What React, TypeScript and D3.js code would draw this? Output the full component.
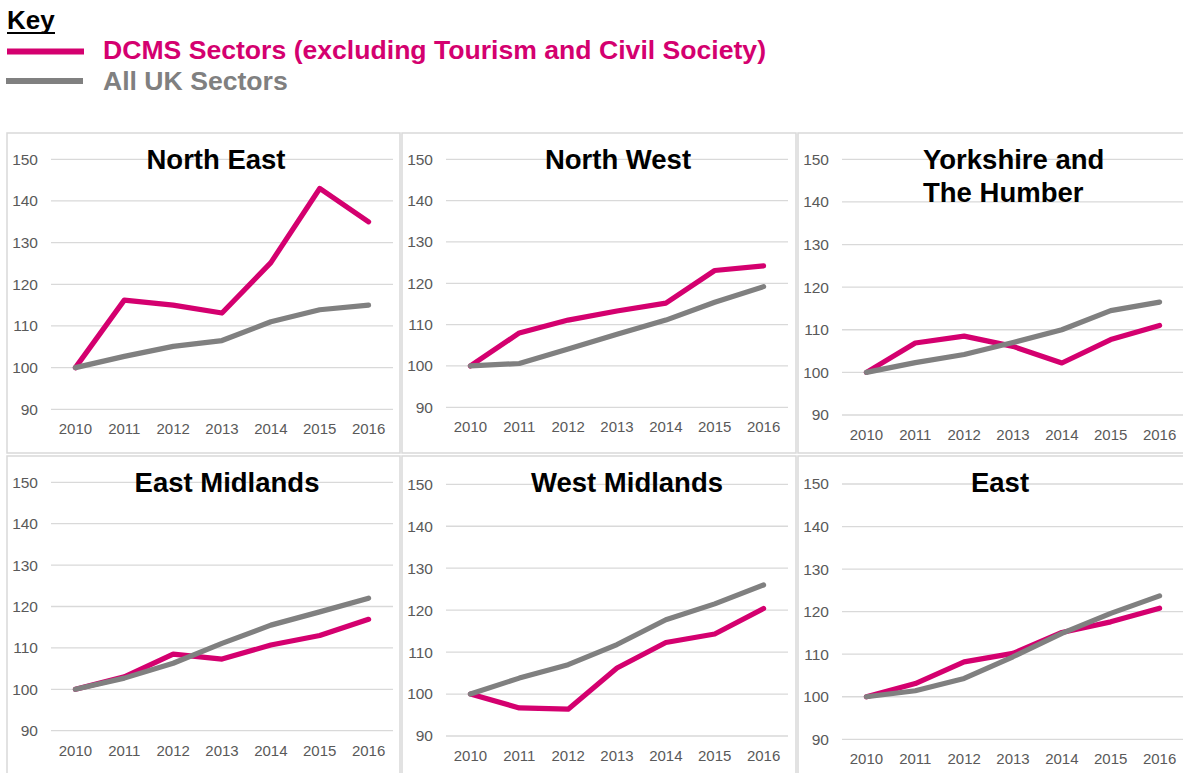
import React from "react";
import * as d3 from "d3";

const years = ["2010", "2011", "2012", "2013", "2014", "2015", "2016"];
const regionNames = ["North East", "North West", "Yorkshire and\nThe Humber", "East Midlands", "West Midlands", "East"];
const yTicks = [90, 100, 110, 120, 130, 140, 150];

// DCMS Sectors (excluding Tourism and Civil Society), index 2010 = 100
const dcmsValues = [
  [100, 116.2, 115, 113.1, 125.2, 143, 135],
  [100, 108, 111.1, 113.3, 115.2, 123.1, 124.2],
  [100, 106.9, 108.5, 106.1, 102.2, 107.7, 111],
  [100, 103, 108.5, 107.3, 110.7, 113, 116.9],
  [100, 96.7, 96.4, 106.2, 112.3, 114.3, 120.4],
  [100, 103.1, 108.2, 110.2, 115.1, 117.6, 120.8],
];

// All UK Sectors
const ukValues = [
  [100, 102.7, 105.1, 106.5, 111, 113.9, 115],
  [100, 100.6, 104.1, 107.7, 111.1, 115.4, 119.2],
  [100, 102.3, 104.2, 107, 110, 114.5, 116.5],
  [100, 102.7, 106.3, 111.1, 115.5, 118.7, 122],
  [100, 103.8, 107, 111.8, 117.7, 121.5, 126],
  [100, 101.4, 104.3, 109.4, 114.9, 119.6, 123.7],
];

const PINK = "#d4006f";
const GREY = "#808080";
const FONT = "'Liberation Sans', Arial, sans-serif";

// panel frames, in page pixels
const panels = [
  { x: 7, y: 133, w: 393, top: 26.3, bottom: 276.3, titleX: 209, anchor: "middle" },
  { x: 402, y: 133, w: 394, top: 26.3, bottom: 274.3, titleX: 216, anchor: "middle" },
  { x: 798, y: 133, w: 394, top: 26.3, bottom: 282, titleX: 125, anchor: "start" },
  { x: 7, y: 456, w: 393, top: 26.3, bottom: 274.7, titleX: 220, anchor: "middle" },
  { x: 402, y: 456, w: 394, top: 28.3, bottom: 280, titleX: 225, anchor: "middle" },
  { x: 798, y: 456, w: 394, top: 28, bottom: 283.3, titleX: 202, anchor: "middle" },
];

function Panel({ idx }) {
  const p = panels[idx];
  const x = d3.scalePoint().domain(years).range([44, 386]).padding(0.5);
  const y = d3.scaleLinear().domain([90, 150]).range([p.bottom, p.top]);
  const line = d3.line<number>()
    .x((_, i) => x(years[i]))
    .y(d => y(d));
  const titleLines = regionNames[idx].split("\n");

  return (
    <g transform={`translate(${p.x},${p.y})`}>
      <rect x={0} y={0} width={p.w} height={320} fill="#fff" stroke="#d9d9d9" strokeWidth={1.5} />
      {yTicks.map(t => (
        <g key={t}>
          <line x1={44} x2={386} y1={y(t)} y2={y(t)} stroke="#d9d9d9" strokeWidth={1.3} />
          <text x={31} y={y(t)} dy="0.35em" textAnchor="end" fontSize={15.5} fill="#595959">{t}</text>
        </g>
      ))}
      {years.map(yr => (
        <text key={yr} x={x(yr)} y={p.bottom + 25} textAnchor="middle" fontSize={15} fill="#595959">{yr}</text>
      ))}
      <path d={line(dcmsValues[idx])} fill="none" stroke={PINK} strokeWidth={5.2} strokeLinejoin="round" strokeLinecap="round" />
      <path d={line(ukValues[idx])} fill="none" stroke={GREY} strokeWidth={5.2} strokeLinejoin="round" strokeLinecap="round" />
      {titleLines.map((t, i) => (
        <text key={i} x={p.titleX} y={36 + i * 33} textAnchor={p.anchor} fontSize={27.5} fontWeight="bold" fill="#000">{t}</text>
      ))}
    </g>
  );
}

export default function App() {
  return (
    <div style={{ position: "absolute", left: 0, top: 0, width: 1183, height: 773, overflow: "hidden", background: "#fff" }}>
      <svg width={1183} height={773} style={{ fontFamily: FONT, display: "block" }}>
        <rect width={1183} height={773} fill="#fff" />
        {/* key */}
        <text x={7} y={29} fontSize={26} fontWeight="bold" fill="#000">Key</text>
        <line x1={7} x2={55} y1={33} y2={33} stroke="#000" strokeWidth={2} />
        <line x1={7} x2={84} y1={51.5} y2={51.5} stroke={PINK} strokeWidth={6} />
        <text x={103} y={59} fontSize={26.6} fontWeight="bold" fill={PINK}>DCMS Sectors (excluding Tourism and Civil Society)</text>
        <line x1={6} x2={83} y1={81} y2={81} stroke={GREY} strokeWidth={6} />
        <text x={103} y={90} fontSize={26.6} fontWeight="bold" fill={GREY}>All UK Sectors</text>
        {panels.map((_, i) => <Panel key={i} idx={i} />)}
      </svg>
    </div>
  );
}
